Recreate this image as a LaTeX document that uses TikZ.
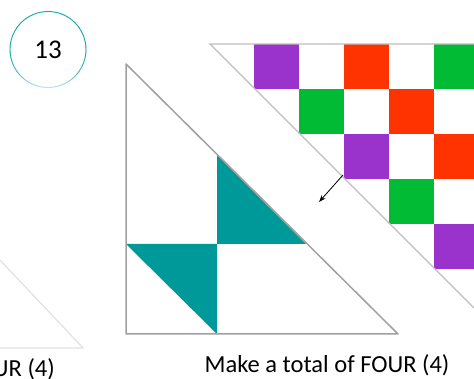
\documentclass[tikz,border=0pt]{standalone}
\usepackage{fontspec}
\setmainfont{Carlito}
\usetikzlibrary{arrows.meta}
\definecolor{tealq}{RGB}{0,153,153}
\definecolor{purq}{RGB}{153,51,204}
\definecolor{redq}{RGB}{255,51,0}
\definecolor{greenq}{RGB}{0,187,51}
\definecolor{ringc}{RGB}{20,170,170}
\definecolor{edgeg}{RGB}{160,160,160}
\definecolor{edgel}{RGB}{190,190,190}
\definecolor{faint}{RGB}{225,225,225}
\tikzset{
  cell/.style={draw=none},
  outline/.style={draw=edgeg, line width=1.5pt, line join=round},
  quiltline/.style={draw=edgel, line width=1.3pt},
  lbl/.style={font=\fontsize{24.5}{28}\selectfont, inner sep=0pt, anchor=base}
}
\begin{document}
\begin{tikzpicture}[x=1pt,y=-1pt]
\useasboundingbox (0,0) rectangle (474,379);
\clip (0,0) rectangle (474,379);
% number circle
\coordinate (cc) at (48,49.5);
\foreach \a in {0,5,...,355}{
  \pgfmathsetmacro\m{(\a<180) ? (100-68*sin(\a+2.5)^2) : 100}
  \draw[ringc!\m!white, line width=0.9pt] (cc) ++(\a:38) arc[start angle=\a, end angle=\a+5.5, radius=38];
}
\node[font=\fontsize{27}{30}\selectfont, inner sep=0pt] (num) at (cc) {13};
% faint fragment at left
\draw[faint, line width=1.2pt] (0,260) -- (83,348) -- (0,348);
\node[lbl, anchor=base east] (frag) at (55,377) {UR (4)};
% quilt (right)
\foreach \i/\j/\c in {0/0/purq,2/0/redq,4/0/greenq,1/1/greenq,3/1/redq,2/2/purq,4/2/redq,3/3/greenq,4/4/purq}{
  \fill[\c] (254+45*\i,44+45*\j) rectangle ++(45,45);
}
\draw[quiltline] (474,44) -- (210,44) -- (474,308);
% left triangle
\fill[tealq] (217,155) -- (217,244) -- (306,244) -- cycle;
\fill[tealq] (126,244) -- (217,244) -- (217,334) -- cycle;
\draw[outline] (126,64) -- (126,334) -- (398,334) -- cycle;
% arrow
\coordinate (as) at (343,175);
\coordinate (ae) at (319,202);
\draw[-{Stealth[length=7pt,width=5pt]}, line width=0.8pt] (as) -- (ae);
% caption
\node[lbl] (cap) at (327,373) {Make a total of FOUR (4)};
\end{tikzpicture}
\end{document}
